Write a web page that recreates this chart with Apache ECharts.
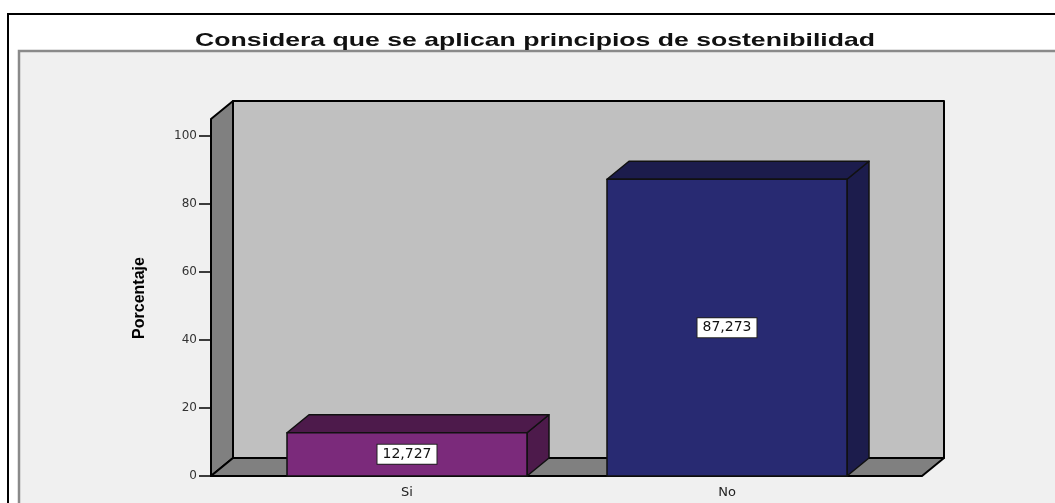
<!DOCTYPE html>
<html>
<head>
<meta charset="utf-8">
<script src="https://cdn.jsdelivr.net/npm/echarts@6/dist/echarts.min.js"></script>
<style>
  html, body { margin: 0; padding: 0; background: #fff; }
  #chart { width: 1055px; height: 503px; }
</style>
</head>
<body>
<div id="chart"></div>
<script>
// datos
const titleText = 'Considera que se aplican principios de sostenibilidad'
const categories = ['Si', 'No']
const percentages = [12.727, 87.273]
const frontColors = ['#7b2a7b', '#282a72']
const shadeColors = ['#4d1a4b', '#1c1c4c']

// aspecto 3D (estilo SPSS)
const DX = 22
const DY = 18
const PAD_L = 36
const PAD_R = 35
const WALL_TOP = 105
const BAR_RATIO = 0.75

// el titulo de SPSS sale estirado en horizontal
const TITLE_FONT = 'bold 19px "Liberation Sans", Arial, sans-serif'
const TITLE_WIDTH = 680
const ctx = document.createElement('canvas').getContext('2d')
ctx.font = TITLE_FONT
const titleScale = TITLE_WIDTH / ctx.measureText(titleText).width

function fmt (v) {
  return v.toFixed(3).replace('.', ',')
}

const chart = echarts.init(document.getElementById('chart'))

const option = {
  backgroundColor: '#ffffff',
  animation: false,
  graphic: [
    {
      type: 'rect',
      z: -10,
      shape: { x: 8, y: 14, width: 1100, height: 600 },
      style: { fill: '#ffffff', stroke: '#000', lineWidth: 2 }
    },
    {
      type: 'rect',
      z: -9,
      shape: { x: 19, y: 51, width: 1100, height: 600 },
      style: { fill: '#f0f0f0', stroke: '#8a8a8a', lineWidth: 2.5 }
    },
    {
      type: 'text',
      z: 5,
      x: 535,
      y: 41,
      scaleX: titleScale,
      style: {
        text: titleText,
        font: TITLE_FONT,
        fill: '#111',
        align: 'center',
        verticalAlign: 'middle'
      }
    }
  ],
  grid: {
    left: 247,
    right: 168,
    top: 136,
    bottom: 27
  },
  xAxis: {
    type: 'category',
    data: categories,
    z: 10,
    axisLine: { show: false },
    axisTick: { alignWithLabel: true, length: 7, lineStyle: { color: '#000', width: 1.5 } },
    axisLabel: {
      margin: 10,
      color: '#222',
      fontSize: 13,
      fontFamily: 'DejaVu Sans, sans-serif'
    },
    splitLine: { show: false }
  },
  yAxis: {
    type: 'value',
    min: 0,
    max: 100,
    interval: 20,
    offset: 36,
    z: 10,
    name: 'Porcentaje',
    nameLocation: 'middle',
    nameGap: 63,
    nameTextStyle: {
      fontFamily: 'Liberation Sans Narrow, Arial Narrow, Liberation Sans, sans-serif',
      fontSize: 16,
      fontWeight: 'bold',
      color: '#000',
      padding: [0, 0, 0, 16]
    },
    axisLine: { show: false },
    axisTick: { show: true, length: 12, lineStyle: { color: '#000', width: 1.5 } },
    axisLabel: {
      margin: 14,
      color: '#333',
      fontSize: 12,
      fontFamily: 'DejaVu Sans, sans-serif'
    },
    splitLine: { show: false }
  },
  series: [
    {
      // paredes y suelo
      type: 'custom',
      z: 1,
      silent: true,
      data: [[0, 0]],
      renderItem: function (params, api) {
        const cs = params.coordSys
        const L = cs.x - PAD_L
        const R = cs.x + cs.width + PAD_R
        const B = api.coord([0, 0])[1]
        const T = api.coord([0, WALL_TOP])[1]
        const line = { stroke: '#000', lineWidth: 2, lineJoin: 'round' }
        return {
          type: 'group',
          children: [
            {
              type: 'polygon',
              shape: { points: [[L + DX, T - DY], [R + DX, T - DY], [R + DX, B - DY], [L + DX, B - DY]] },
              style: Object.assign({ fill: '#c0c0c0' }, line)
            },
            {
              type: 'polygon',
              shape: { points: [[L, B], [L, T], [L + DX, T - DY], [L + DX, B - DY]] },
              style: Object.assign({ fill: '#808080' }, line)
            },
            {
              type: 'polygon',
              shape: { points: [[L, B], [R, B], [R + DX, B - DY], [L + DX, B - DY]] },
              style: Object.assign({ fill: '#808080' }, line)
            }
          ]
        }
      }
    },
    {
      // barras
      type: 'custom',
      z: 3,
      data: percentages.map((v, i) => [i, v]),
      renderItem: function (params, api) {
        const i = api.value(0)
        const v = api.value(1)
        const top = api.coord([i, v])
        const base = api.coord([i, 0])
        const w = api.size([1, 0])[0] * BAR_RATIO
        const x0 = top[0] - w / 2
        const x1 = top[0] + w / 2
        const yT = top[1]
        const yB = base[1]
        const line = { stroke: '#111', lineWidth: 1.5, lineJoin: 'round' }
        return {
          type: 'group',
          children: [
            {
              type: 'polygon',
              shape: { points: [[x1, yB], [x1, yT], [x1 + DX, yT - DY], [x1 + DX, yB - DY]] },
              style: Object.assign({ fill: shadeColors[i] }, line)
            },
            {
              type: 'polygon',
              shape: { points: [[x0, yT], [x1, yT], [x1 + DX, yT - DY], [x0 + DX, yT - DY]] },
              style: Object.assign({ fill: shadeColors[i] }, line)
            },
            {
              type: 'rect',
              shape: { x: x0, y: yT, width: w, height: yB - yT },
              style: Object.assign({ fill: frontColors[i] }, line)
            },
            {
              type: 'text',
              style: {
                text: fmt(v),
                x: top[0],
                y: (yT + yB) / 2,
                align: 'center',
                verticalAlign: 'middle',
                fontFamily: 'DejaVu Sans, sans-serif',
                fontSize: 14,
                fill: '#111',
                backgroundColor: '#ffffff',
                borderColor: '#222',
                borderWidth: 1,
                padding: [3, 5, 2, 5]
              }
            }
          ]
        }
      }
    }
  ]
}

chart.setOption(option)
</script>
</body>
</html>
